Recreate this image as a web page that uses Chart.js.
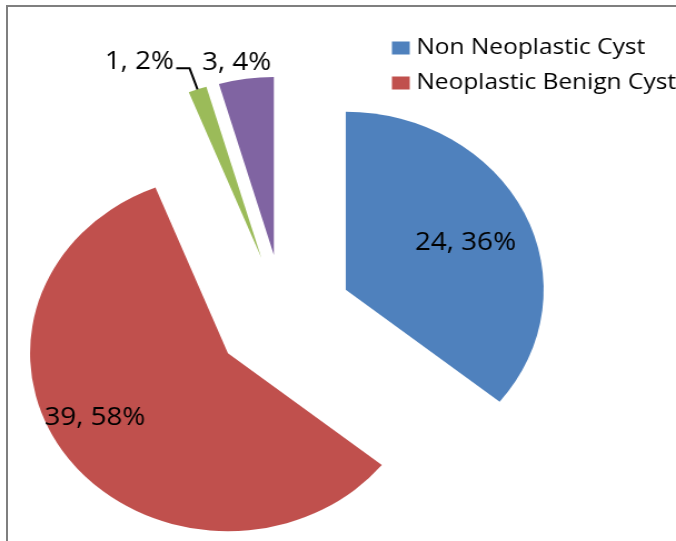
<!DOCTYPE html>
<html>
<head>
<meta charset="utf-8">
<script src="https://cdn.jsdelivr.net/npm/chart.js@4.4.1/dist/chart.umd.min.js"></script>
<style>
  html, body { margin: 0; padding: 0; background: #fff; }
  #wrap { position: relative; width: 676px; height: 541px; overflow: hidden; }
  #frame { position: absolute; left: 6px; top: 5px; right: -4px; bottom: -4px;
           border-top: 2px solid #7f7f7f; border-left: 2px solid #7f7f7f; }
  #chart { position: absolute; left: 0; top: 0; }
</style>
</head>
<body>
<div id="wrap">
  <div id="frame"></div>
  <!-- drawn at 608 wide, shown at 676: the reference pie is an ellipse -->
  <canvas id="chart" width="608" height="541" style="width:676px;height:541px"></canvas>
</div>
<script>
// data
const categories = ['Non Neoplastic Cyst', 'Neoplastic Benign Cyst', 'Neoplastic Borderline Cyst', 'Malignant Cyst'];
const counts = [24, 39, 1, 3];
const percents = [36, 58, 2, 4];
const colors = ['#4F81BD', '#C0504D', '#9BBB59', '#8064A2'];
const legendShown = 2; // only the first two legend entries fit in the frame

const FONT = '"Open Sans", "DejaVu Sans", sans-serif';
const RADIUS = 178;
const EXPLODE = 62;

// pull every slice out along its middle angle
// (the built-in offset also trims thin slices, so move the arcs instead)
const explode = {
    id: 'explode',
    afterDatasetsUpdate(chart) {
        chart.getDatasetMeta(0).data.forEach(arc => {
            const mid = (arc.startAngle + arc.endAngle) / 2;
            arc.x += Math.cos(mid) * EXPLODE;
            arc.y += Math.sin(mid) * EXPLODE;
        });
    }
};

// "count, pct%" labels, one with a leader line
const sliceLabels = {
    id: 'sliceLabels',
    afterDatasetsDraw(chart, args, opts) {
        const ctx = chart.ctx;
        ctx.save();
        ctx.font = `${opts.size}px ${FONT}`;
        ctx.fillStyle = '#000';
        ctx.strokeStyle = '#000';
        chart.getDatasetMeta(0).data.forEach((arc, i) => {
            const place = opts.place[i];
            const mid = (arc.startAngle + arc.endAngle) / 2;
            const cx = arc.x, cy = arc.y;
            const r = arc.outerRadius;
            const text = `${counts[i]}, ${percents[i]}%`;
            if (place.leader) {
                const ex = cx + Math.cos(mid) * r;
                const ey = cy + Math.sin(mid) * r;
                const bx = cx + Math.cos(mid) * r * 1.125;
                const by = cy + Math.sin(mid) * r * 1.125;
                ctx.lineWidth = 2;
                ctx.beginPath();
                ctx.moveTo(ex, ey);
                ctx.lineTo(bx, by);
                ctx.lineTo(bx - 12, by);
                ctx.stroke();
                ctx.textAlign = 'right';
                ctx.textBaseline = 'middle';
                ctx.fillText(text, bx - 14, by - 6);
            } else {
                const a = mid + place.da * Math.PI / 180;
                ctx.textAlign = 'center';
                ctx.textBaseline = 'middle';
                ctx.fillText(text, cx + Math.cos(a) * r * place.k, cy + Math.sin(a) * r * place.k);
            }
        });
        ctx.restore();
    }
};

// legend at the top right, cut to the entries that show
const cornerLegend = {
    id: 'cornerLegend',
    afterDraw(chart, args, opts) {
        const ctx = chart.ctx;
        const items = chart.options.plugins.legend.labels.generateLabels(chart).slice(0, legendShown);
        ctx.save();
        ctx.font = `${opts.size}px ${FONT}`;
        ctx.textAlign = 'left';
        ctx.textBaseline = 'middle';
        items.forEach((item, i) => {
            const y = opts.y + i * opts.step;
            ctx.fillStyle = item.fillStyle;
            ctx.fillRect(opts.x, y - 6.5, 16, 13);
            ctx.fillStyle = '#000';
            ctx.fillText(item.text, opts.x + 22, y);
        });
        ctx.restore();
    }
};

new Chart(document.getElementById('chart'), {
    type: 'pie',
    data: {
        labels: categories,
        datasets: [{
            data: counts,
            backgroundColor: colors,
            borderWidth: 0,
            radius: RADIUS
        }]
    },
    options: {
        responsive: false,
        animation: false,
        events: [],
        layout: { padding: { left: 0, right: 98, top: 92, bottom: 0 } },
        plugins: {
            legend: { display: false },
            tooltip: { enabled: false },
            sliceLabels: {
                size: 25,
                place: [
                    { k: 0.66, da: 2 },
                    { k: 0.765, da: 7.8 },
                    { leader: true },
                    { k: 1.095, da: -1.8 }
                ]
            },
            cornerLegend: { size: 22, x: 352.5, y: 48, step: 35 }
        }
    },
    plugins: [explode, sliceLabels, cornerLegend]
});
</script>
</body>
</html>
